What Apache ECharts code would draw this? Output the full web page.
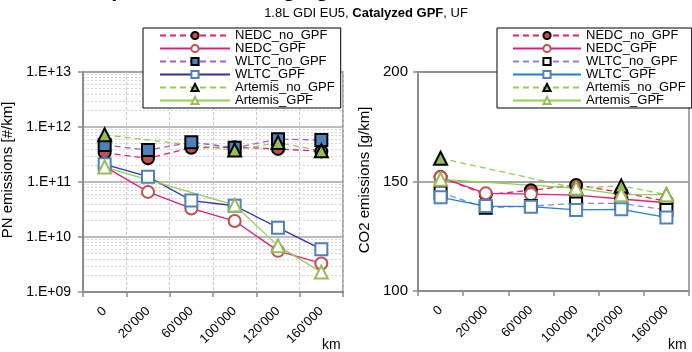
<!DOCTYPE html>
<html>
<head>
<meta charset="utf-8">
<script src="https://cdn.jsdelivr.net/npm/echarts@6/dist/echarts.min.js"></script>
<style>
    html, body { margin: 0; padding: 0; background: #fff; }
    #chart { width: 692px; height: 352px; }
</style>
</head>
<body>
<div id="chart"></div>
<script>
const KM_LABELS = ['0', "20'000", "60'000", "100'000", "120'000", "160'000"];

/* PN emissions [#/km] */
const PN_NEDC_NO_GPF = [3.4e11, 2.7e11, 4.2e11, 4.3e11, 4.0e11, 3.6e11];
const PN_NEDC_GPF = [1.9e11, 6.6e10, 3.3e10, 1.95e10, 5.6e9, 3.3e9];
const PN_WLTC_NO_GPF = [4.7e11, 3.8e11, 5.3e11, 4.2e11, 6.0e11, 5.8e11];
const PN_WLTC_GPF = [2.1e11, 1.25e11, 4.6e10, 3.7e10, 1.48e10, 6.0e9];
const PN_ARTEMIS_NO_GPF = [7.2e11, null, null, 3.8e11, 5.2e11, 3.7e11];
const PN_ARTEMIS_GPF = [1.87e11, null, null, 3.8e10, 6.9e9, 2.3e9];

/* CO2 emissions [g/km] */
const CO2_NEDC_NO_GPF = [152, 144, 146, 148.4, 145, 141];
const CO2_NEDC_GPF = [151.9, 144.6, 144.2, 143.8, 142, 140.3];
const CO2_WLTC_NO_GPF = [145, 138, 138.8, 140, 140, 137];
const CO2_WLTC_GPF = [142.8, 138.8, 138.5, 137, 137.3, 133.6];
const CO2_ARTEMIS_NO_GPF = [160.6, null, null, 147, 148, 144];
const CO2_ARTEMIS_GPF = [151, null, null, 147, 144, 144];

const FONT = 'Liberation Sans, Arial, sans-serif';
const AXIS_GRAY = '#8c8c8c';

let chart = echarts.init(document.getElementById('chart'));

/* minor log gridlines 2..9 per decade */
let minorLines = [];
for (let e = 9; e < 13; e++) {
    for (let d = 2; d <= 9; d++) {
        minorLines.push({ yAxis: d * Math.pow(10, e) });
    }
}

function lineSeries(name, data, axis, lineColor, dashed, symbol, fill, border) {
    return {
        name: name,
        type: 'line',
        xAxisIndex: axis,
        yAxisIndex: axis,
        data: data,
        connectNulls: true,
        symbol: symbol,
        symbolSize: symbol === 'triangle' ? 13 : 12,
        showAllSymbol: true,
        lineStyle: { color: lineColor, width: 1.3, type: dashed ? [6, 4] : 'solid' },
        itemStyle: { color: fill, borderColor: border, borderWidth: 2 },
        emphasis: { disabled: true },
        animation: false
    };
}

function legend(left, padLeft, itemWidth, names) {
    return {
        data: names,
        left: left,
        top: 28,
        orient: 'vertical',
        backgroundColor: '#fff',
        borderColor: '#000',
        borderWidth: 1,
        borderRadius: 0,
        padding: [1, 6, 1, padLeft],
        itemWidth: itemWidth,
        itemHeight: 9,
        itemGap: 0,
        selectedMode: false,
        formatter: function (n) { return n.trim(); },
        textStyle: { fontSize: 13, fontFamily: FONT, color: '#000', lineHeight: 13 }
    };
}

function xAxis(gridIndex) {
    return {
        type: 'category',
        gridIndex: gridIndex,
        data: KM_LABELS,
        boundaryGap: true,
        axisLine: { lineStyle: { color: AXIS_GRAY, width: 2 } },
        axisTick: { show: true, length: 5, lineStyle: { color: AXIS_GRAY, width: 1.5 } },
        axisLabel: { rotate: 45, fontSize: 13, fontFamily: FONT, color: '#000', margin: 17, interval: 0 },
        splitLine: {
            show: gridIndex === 0,
            lineStyle: { color: '#c8c8c8', type: [3, 2], width: 1 }
        }
    };
}

let names = ['NEDC_no_GPF', 'NEDC_GPF', 'WLTC_no_GPF', 'WLTC_GPF', 'Artemis_no_GPF', 'Artemis_GPF'];
let namesRight = names.map(function (n) { return n + ' '; });

let pnNedcNo = lineSeries(names[0], PN_NEDC_NO_GPF, 0, '#e0207a', true, 'circle', '#c0504d', '#000');
pnNedcNo.markLine = {
    silent: true,
    symbol: 'none',
    z: 0,
    label: { show: false },
    lineStyle: { color: '#d4d4d4', type: [2, 2], width: 1 },
    animation: false,
    data: minorLines
};

let option = {
    backgroundColor: '#fff',
    textStyle: { fontFamily: FONT },
    graphic: [
        {
            type: 'text', left: 'center', top: -21, silent: true,
            style: { text: 'Impact of vehicle aging on PN emissions and CO\u2082', font: 'bold 22px ' + FONT, fill: '#000' }
        },
        {
            type: 'text', x: 366, y: 13, silent: true,
            style: {
                text: '{n|1.8L GDI EU5, }{b|Catalyzed GPF}{n|, UF}',
                align: 'center', verticalAlign: 'middle',
                rich: {
                    n: { fontSize: 13, fontFamily: FONT, color: '#000' },
                    b: { fontSize: 13, fontFamily: FONT, fontWeight: 'bold', color: '#000' }
                }
            }
        },
        {
            type: 'text', x: 8, y: 170, rotation: Math.PI / 2, silent: true,
            style: { text: 'PN emissions [#/km]', font: '15px ' + FONT, fill: '#000', align: 'center', verticalAlign: 'middle' }
        },
        {
            type: 'text', x: 365, y: 180, rotation: Math.PI / 2, silent: true,
            style: { text: 'CO2 emissions [g/km]', font: '15px ' + FONT, fill: '#000', align: 'center', verticalAlign: 'middle' }
        },
        { type: 'text', x: 322, y: 338, silent: true, style: { text: 'km', font: '14px ' + FONT, fill: '#000' } },
        { type: 'text', x: 668, y: 338, silent: true, style: { text: 'km', font: '14px ' + FONT, fill: '#000' } }
    ],
    legend: [
        legend(143, 16, 70, names),
        legend(497, 15, 68, namesRight)
    ],
    grid: [
        { left: 83, right: 349, top: 72, bottom: 60, show: true, backgroundColor: '#fff', borderColor: AXIS_GRAY, borderWidth: 1.5 },
        { left: 418, right: 3, top: 72, bottom: 61, show: true, backgroundColor: '#fff', borderColor: AXIS_GRAY, borderWidth: 1.5 }
    ],
    xAxis: [xAxis(0), xAxis(1)],
    yAxis: [
        {
            type: 'log',
            gridIndex: 0,
            logBase: 10,
            min: 1e9,
            max: 1e13,
            axisLine: { show: true, lineStyle: { color: AXIS_GRAY, width: 2 } },
            axisTick: { show: true, length: 5, lineStyle: { color: AXIS_GRAY, width: 1.5 } },
            axisLabel: {
                fontSize: 14, fontFamily: FONT, color: '#000', margin: 12,
                formatter: function (v) {
                    let e = Math.round(Math.log10(v));
                    return '1.E+' + (e < 10 ? '0' + e : e);
                }
            },
            splitLine: { show: true, lineStyle: { color: '#a6a6a6', width: 1.5 } }
        },
        {
            type: 'value',
            gridIndex: 1,
            min: 100,
            max: 200,
            interval: 50,
            axisLine: { show: true, lineStyle: { color: AXIS_GRAY, width: 2 } },
            axisTick: { show: true, length: 5, lineStyle: { color: AXIS_GRAY, width: 1.5 } },
            axisLabel: { fontSize: 15, fontFamily: FONT, color: '#000', margin: 10 },
            splitLine: { show: true, lineStyle: { color: AXIS_GRAY, width: 1.5 } }
        }
    ],
    series: [
        pnNedcNo,
        lineSeries(names[1], PN_NEDC_GPF, 0, '#e0207a', false, 'circle', '#fff', '#c0504d'),
        lineSeries(names[2], PN_WLTC_NO_GPF, 0, '#9b5fcf', true, 'rect', '#4f81bd', '#000'),
        lineSeries(names[3], PN_WLTC_GPF, 0, '#33339a', false, 'rect', '#fff', '#4f81bd'),
        lineSeries(names[4], PN_ARTEMIS_NO_GPF, 0, '#92d050', true, 'triangle', '#9bbb59', '#000'),
        lineSeries(names[5], PN_ARTEMIS_GPF, 0, '#92d050', false, 'triangle', '#fff', '#9bbb59'),

        lineSeries(namesRight[0], CO2_NEDC_NO_GPF, 1, '#e0207a', true, 'circle', '#c0504d', '#000'),
        lineSeries(namesRight[1], CO2_NEDC_GPF, 1, '#e0207a', false, 'circle', '#fff', '#c0504d'),
        lineSeries(namesRight[2], CO2_WLTC_NO_GPF, 1, '#8585e6', true, 'rect', '#fff', '#000'),
        lineSeries(namesRight[3], CO2_WLTC_GPF, 1, '#1f80d0', false, 'rect', '#fff', '#4f81bd'),
        lineSeries(namesRight[4], CO2_ARTEMIS_NO_GPF, 1, '#92d050', true, 'triangle', '#9bbb59', '#000'),
        lineSeries(namesRight[5], CO2_ARTEMIS_GPF, 1, '#92d050', false, 'triangle', '#fff', '#9bbb59')
    ]
};

chart.setOption(option);

window.addEventListener('resize', function () {
    chart?.resize();
});
</script>
</body>
</html>
